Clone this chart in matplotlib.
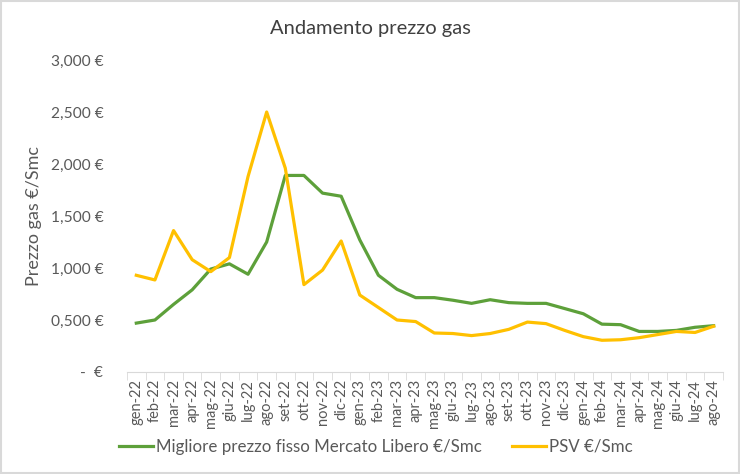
import numpy as np
import matplotlib.pyplot as plt
from matplotlib.patches import Rectangle
from matplotlib.ticker import FuncFormatter

months = ['gen-22', 'feb-22', 'mar-22', 'apr-22', 'mag-22', 'giu-22', 'lug-22', 'ago-22',
          'set-22', 'ott-22', 'nov-22', 'dic-22', 'gen-23', 'feb-23', 'mar-23', 'apr-23',
          'mag-23', 'giu-23', 'lug-23', 'ago-23', 'set-23', 'ott-23', 'nov-23', 'dic-23',
          'gen-24', 'feb-24', 'mar-24', 'apr-24', 'mag-24', 'giu-24', 'lug-24', 'ago-24']

mercato_libero = [0.47, 0.50, 0.65, 0.79, 0.99, 1.04, 0.94, 1.25,
                  1.89, 1.89, 1.72, 1.69, 1.27, 0.93, 0.795, 0.715,
                  0.715, 0.69, 0.66, 0.695, 0.667, 0.66, 0.66, 0.61,
                  0.56, 0.46, 0.455, 0.39, 0.39, 0.40, 0.43, 0.445]

psv = [0.93, 0.885, 1.36, 1.08, 0.965, 1.10, 1.88, 2.50,
       1.96, 0.84, 0.98, 1.26, 0.74, 0.62, 0.50, 0.485,
       0.375, 0.37, 0.35, 0.37, 0.41, 0.48, 0.465, 0.40,
       0.34, 0.305, 0.31, 0.33, 0.36, 0.39, 0.38, 0.44]

label_ml = 'Migliore prezzo fisso Mercato Libero €/Smc'
label_psv = 'PSV €/Smc'

plt.rcParams['font.family'] = ['Lato', 'DejaVu Sans']
grey = '#595959'
green = '#5DA03A'
yellow = '#FFC000'

fig = plt.figure(figsize=(7.4, 4.74), dpi=100)
ax = fig.add_axes([0.1716, 0.2152, 0.8054, 0.6582])

x = np.arange(len(months))
ax.plot(x, mercato_libero, color=green, lw=2.3, label=label_ml, solid_joinstyle='round')
ax.plot(x, psv, color=yellow, lw=2.3, label=label_psv, solid_joinstyle='round')

ax.set_xlim(-0.5, len(months) - 0.5)
ax.set_ylim(0, 3.0)
ax.set_yticks(np.arange(0, 3.01, 0.5))


def eur(v, pos):
    if abs(v) < 1e-9:
        return '-  €'
    return f'{v:.3f}'.replace('.', ',') + ' €'


ax.yaxis.set_major_formatter(FuncFormatter(eur))
ax.set_xticks(x)
ax.set_xticklabels(months, rotation=90, fontsize=10.5, color=grey)
ax.set_xticks(np.arange(-0.5, len(months)), minor=True)
ax.tick_params(axis='x', which='major', length=0, pad=5)
ax.tick_params(axis='x', which='minor', length=6, color='#D9D9D9')
ax.tick_params(axis='y', length=0, labelsize=11.2, labelcolor=grey, pad=17)

for s in ['top', 'right', 'left']:
    ax.spines[s].set_visible(False)
ax.spines['bottom'].set_color('#D9D9D9')

ax.set_ylabel('Prezzo gas €/Smc', fontsize=13, color=grey, labelpad=6)
fig.text(0.5, 0.94, 'Andamento prezzo gas', ha='center', va='center', fontsize=14.5, color='#404040')

fig.legend(loc='center', bbox_to_anchor=(0.508, 0.057), ncol=2, frameon=False,
           fontsize=12.2, handlelength=2.0, handletextpad=0.15, columnspacing=1.8,
           labelcolor=grey)

fig.patches.append(Rectangle((0.002, 0.003), 0.996, 0.994, transform=fig.transFigure,
                             fill=False, edgecolor='#D9D9D9', lw=1.5))

fig.savefig('out.png', dpi=100, facecolor='white')
